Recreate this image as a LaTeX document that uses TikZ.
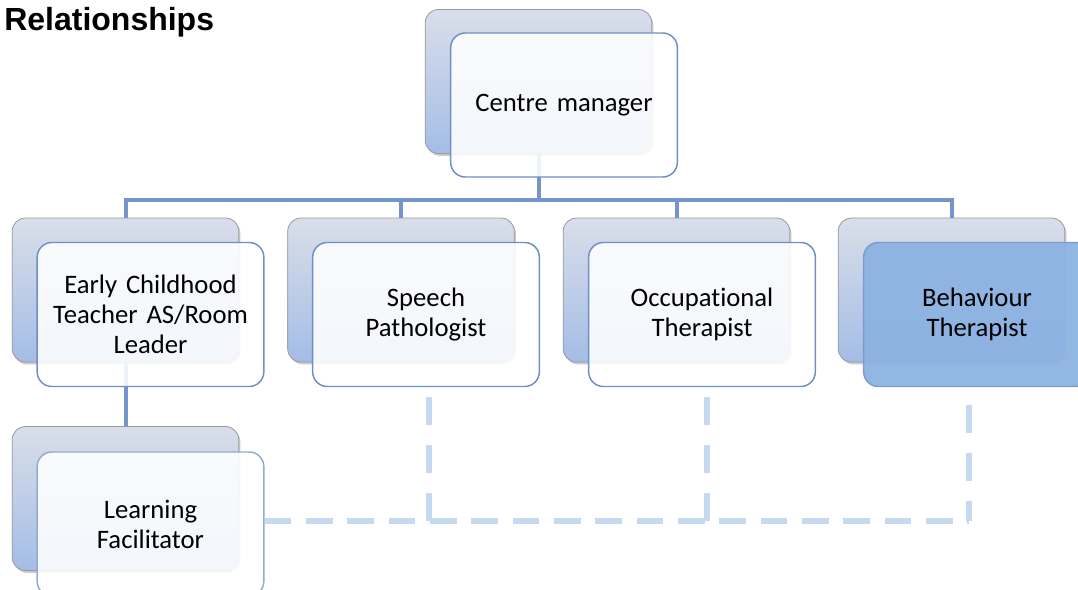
\documentclass[tikz,border=0pt]{standalone}
\usepackage{fontspec}
\setmainfont[Ligatures={NoCommon}]{Carlito}
\newfontfamily\headfont{Liberation Sans}
\usetikzlibrary{shadows}
\definecolor{edge}{HTML}{6E8FC6}
\definecolor{wire}{HTML}{7395CA}
\definecolor{pale}{HTML}{C6D9F1}
\definecolor{tieru}{HTML}{D9DEE9}
\definecolor{tierd}{HTML}{A4BDE6}
\definecolor{hi}{HTML}{8DB3E2}
\tikzset{
  back/.style={draw=gray!80, line width=0.6pt, rounded corners=10pt, top color=tieru,
               bottom color=tierd, minimum width=170pt, minimum height=108pt,
               drop shadow={shadow xshift=1.2pt, shadow yshift=-1.8pt, opacity=0.35, fill=black!60}},
  card/.style={draw=edge, line width=1.1pt, rounded corners=11pt, fill=white, fill opacity=0.88,
               text opacity=1, minimum width=170pt, minimum height=108pt, text width=160pt,
               align=center, font=\fontsize{20}{22.5}\selectfont},
  cardhi/.style={card, fill=hi, fill opacity=0.95, draw=edge!90},
  link/.style={draw=wire, line width=3pt},
  dashlink/.style={draw=pale, line width=4.5pt, dash pattern=on 20pt off 11pt},
  vdash/.style={dashlink, dash pattern=on 21pt off 15pt},
}

\begin{document}
\begin{tikzpicture}[x=0.75pt, y=-0.75pt]
  \useasboundingbox (0,0) rectangle (1078,589);
  \node[font=\headfont\bfseries\fontsize{24}{28}\selectfont, anchor=base west, inner sep=0pt]
    (head) at (4,30) {Relationships};
  % back panels
  \node[back] (cmb) at (538.5,81.5) {};
  \node[back] (ectb) at (125.5,290) {};
  \node[back] (spb) at (401,290) {};
  \node[back] (otb) at (676.5,290) {};
  \node[back] (btb) at (951.5,290) {};
  \node[back] (lfb) at (125.5,498.5) {};
  % solid links
  \coordinate (bus) at (540,200);
  \draw[link] (cmb.south) -- (cmb.south |- bus);
  \draw[link] (ectb.north) -- (ectb.north |- bus) -- (btb.north |- bus) -- (btb.north);
  \draw[link] (spb.north) -- (spb.north |- bus);
  \draw[link] (otb.north) -- (otb.north |- bus);
  \draw[link] (ectb.south) -- (lfb.north);
  % front cards
  \node[card] (cm) at (564,105) {Centre manager};
  \node[card] (ect) at (150.5,314.5) {Early Childhood\\ Teacher AS/Room\\ Leader};
  \node[card] (sp) at (426,314.5) {Speech\\ Pathologist};
  \node[card] (ot) at (702,314.5) {Occupational\\ Therapist};
  \node[cardhi] (bt) at (977,314.5) {Behaviour\\ Therapist};
  \node[card, draw=edge!75] (lf) at (150.5,524) {Learning\\ Facilitator};
  % dashed links
  \coordinate (dj) at (969,521);
  \coordinate (dsp) at (429,397);
  \coordinate (dot) at (707,397);
  \coordinate (dbt) at (969,405);
  \draw[dashlink] (lf.east |- dj) -- (dj);
  \draw[vdash] (dsp) -- (dsp |- dj);
  \draw[vdash] (dot) -- (dot |- dj);
  \draw[vdash] (dbt) -- (dj);
\end{tikzpicture}
\end{document}
